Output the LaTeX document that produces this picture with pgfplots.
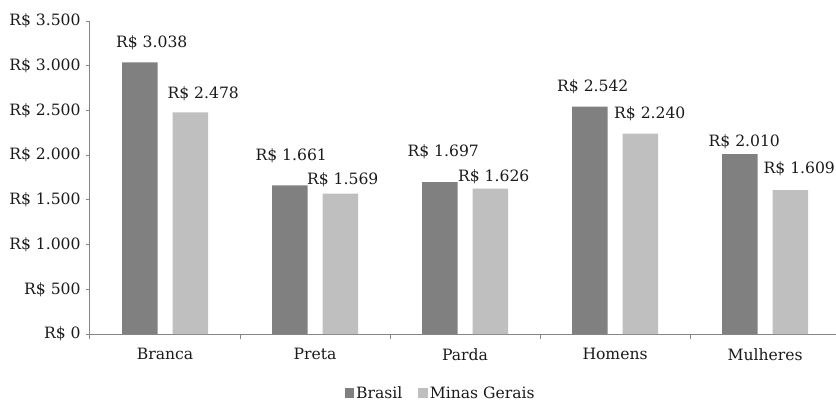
\documentclass[border=0pt]{standalone}
\usepackage{pgfplots}
\usepackage{pgfplotstable}
\pgfplotsset{compat=1.18}
\usepackage{fontspec}
\setmainfont{DejaVu Serif}
\definecolor{darkbar}{RGB}{128,128,128}
\definecolor{lightbar}{RGB}{191,191,191}
\definecolor{axgray}{RGB}{134,134,134}
\definecolor{txt}{RGB}{26,26,26}
\pgfplotstableread{
x y dx dy lbl
0 3038 12 20 3.038
1 1661 1.5 29.5 1.661
2 1697 3.5 31 1.697
3 2542 3 20 2.542
4 2010 4.5 13 2.010
}\brasil
\pgfplotstableread{
x y dx dy lbl
0 2478 13 19 2.478
1 1569 2.5 14 1.569
2 1626 3.5 12 1.626
3 2240 9.5 20 2.240
4 1609 9 21 1.609
}\minas
\begin{document}
\fontsize{15.6bp}{18bp}\selectfont
\begin{tikzpicture}[font=\fontsize{15.6bp}{18bp}\selectfont, text=txt]
\begin{axis}[
  name=ax,
  scale only axis, width=746bp, height=313bp,
  xmin=-0.5, xmax=4.473, ymin=0, ymax=3500,
  ybar=15bp, bar width=35.5bp,
  axis lines*=left,
  axis line style={axgray, line width=1bp, -},
  tick align=outside,
  major tick length=4bp,
  minor tick length=5bp,
  tick style={axgray, line width=1bp},
  xtick={0,1,2,3,4},
  xticklabels={Branca, Preta, Parda, Homens, Mulheres},
  major x tick style={draw=none},
  minor xtick={-0.5,0.5,1.5,2.5,3.5},
  ytick={0,500,1000,1500,2000,2500,3000,3500},
  yticklabels={R\$ 0, R\$ 500, R\$ 1.000, R\$ 1.500, R\$ 2.000, R\$ 2.500, R\$ 3.000, R\$ 3.500},
  xticklabel style={text=txt, yshift=-5bp},
  yticklabel style={text=txt},
  nodes near coords={R\$ \pgfplotspointmeta},
  point meta=explicit symbolic,
  visualization depends on={\thisrow{dx} \as \lx},
  visualization depends on={\thisrow{dy} \as \ly},
  every node near coord/.append style={anchor=center, xshift=\lx bp, yshift=\ly bp, text=txt, inner sep=0pt},
  legend style={at={(axis description cs:0.47,-0.19)}, anchor=center, draw=none, fill=none,
    legend columns=2, nodes={inner sep=2bp}, /tikz/every even column/.append style={column sep=14bp}, text=txt},
  legend image code/.code={\fill[#1] (0bp,-4.5bp) rectangle (9.5bp,5bp);},
  clip=false,
]
\addplot[fill=darkbar, draw=none] table[x=x, y=y, meta=lbl] {\brasil};
\addplot[fill=lightbar, draw=none] table[x=x, y=y, meta=lbl] {\minas};
\legend{Brasil, Minas Gerais}
\end{axis}
\pgfresetboundingbox
\path[use as bounding box] ([shift={(-90bp,-67bp)}]ax.south west) rectangle ([shift={(746bp,334bp)}]ax.south west);
\end{tikzpicture}
\end{document}
